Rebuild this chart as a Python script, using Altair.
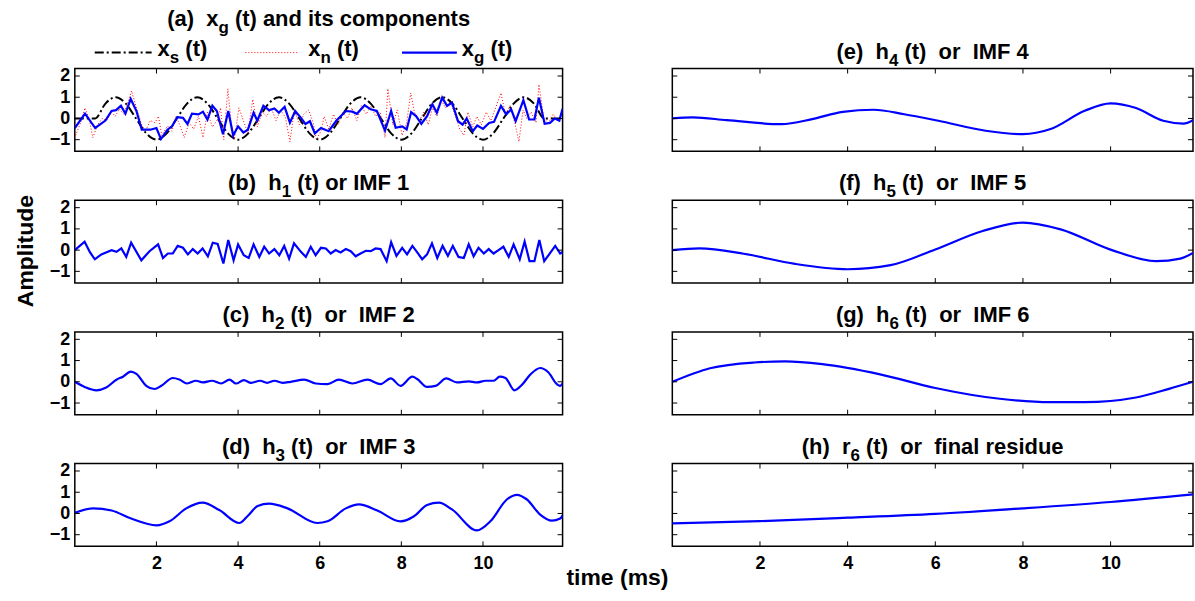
import altair as alt
import pandas as pd

# ---------------- data ----------------
xs_t = [0, 0.5, 0.75, 1.0, 1.25, 1.5, 1.75, 2.0, 2.25, 2.5, 2.75, 3.0, 3.25, 3.5, 3.75,
        4.0, 4.25, 4.5, 4.75, 5.0, 5.25, 5.5, 5.75, 6.0, 6.25, 6.5, 6.75, 7.0, 7.25, 7.5,
        7.75, 8.0, 8.25, 8.5, 8.75, 9.0, 9.25, 9.5, 9.75, 10.0, 10.25, 10.5, 10.75, 11.0,
        11.25, 11.5, 11.95]
xs_v = [0, 0, 0.7, 1, 0.7, 0, -0.7, -1, -0.7, 0, 0.7, 1, 0.7, 0, -0.7,
        -1, -0.7, 0, 0.7, 1, 0.7, 0, -0.7, -1, -0.7, 0, 0.7, 1, 0.7, 0,
        -0.7, -1, -0.7, 0, 0.7, 1, 0.7, 0, -0.7, -1, -0.7, 0, 0.7, 1,
        0.7, 0, 0]

xn_t = [0.02, 0.14, 0.25, 0.35, 0.44, 0.56, 0.67, 0.78, 0.9, 0.99, 1.09, 1.2, 1.29, 1.39,
        1.51, 1.64, 1.73, 1.85, 1.96, 2.05, 2.13, 2.27, 2.38, 2.48, 2.57, 2.68, 2.8, 2.91,
        3.03, 3.14, 3.25, 3.37, 3.48, 3.57, 3.65, 3.75, 3.83, 3.91, 4.02, 4.13, 4.24, 4.36,
        4.47, 4.59, 4.7, 4.81, 4.93, 5.04, 5.16, 5.27, 5.38, 5.5, 5.61, 5.73, 5.84, 5.92,
        6.03, 6.11, 6.22, 6.34, 6.45, 6.56, 6.68, 6.79, 6.91, 7.02, 7.14, 7.25, 7.37, 7.48,
        7.6, 7.67, 7.79, 7.9, 8.02, 8.13, 8.23, 8.32, 8.44, 8.55, 8.66, 8.76, 8.87, 8.97,
        9.08, 9.2, 9.31, 9.43, 9.53, 9.63, 9.75, 9.85, 9.96, 10.08, 10.19, 10.31, 10.44,
        10.55, 10.66, 10.78, 10.88, 10.98, 11.07, 11.18, 11.3, 11.37, 11.49, 11.6, 11.72,
        11.83, 11.95]
xn_v = [-0.8, -0.2, 0.5, 0.0, -0.9, -0.3, 0.0, -0.1, 0.3, 0.1, 0.45, 0.2, 0.7, 1.3,
        0.5, -0.3, -0.6, -0.1, -0.2, 0.1, -0.8, -0.35, -0.6, 0.1, -0.3, -0.9, -0.2, -0.5,
        0.1, -0.9, 0.3, -0.4, -0.1, 0.5, -1.0, 1.4, -0.2, -1.0, 0.5, -0.1, -0.7, 0.9,
        -0.4, 0.3, 0.1, 0.5, -0.1, 0.4, 0.05, -1.1, 0.4, -0.3, 0.2, 0.4, -0.2, -1.0,
        -0.6, 0.1, -0.5, 0.2, -0.3, 0.3, 0.0, 0.5, -0.1, 0.6, 0.2, 0.6, 0.1, 0.3,
        -0.9, 1.4, -0.3, 0.4, -0.8, -0.2, 1.2, 0.3, -0.1, 0.3, -0.3, 0.5, 0.1, 0.9,
        0.5, 0.8, 0.2, -0.5, -0.8, 0.3, -0.4, 0.1, -0.3, 0.3, -0.1, 0.5, 1.2,
        0.2, 0.6, -0.2, -1.1, 0.4, 0.0, 0.3, -0.2, 1.6, 0.0, -0.2, 0.2,
        -0.1, 0.3]

xg_t = [0.0, 0.25, 0.5, 0.75, 0.9, 1.01, 1.13, 1.24, 1.37, 1.51, 1.64, 1.85, 2.0, 2.11,
        2.27, 2.38, 2.51, 2.65, 2.76, 2.87, 3.03, 3.14, 3.25, 3.37, 3.48, 3.63, 3.76, 3.88,
        4.0, 4.13, 4.24, 4.38, 4.47, 4.62, 4.76, 4.89, 5.0, 5.14, 5.27, 5.4, 5.54, 5.65,
        5.76, 5.88, 6.03, 6.22, 6.41, 6.64, 6.8, 6.91, 7.1, 7.25, 7.4, 7.6, 7.75, 7.86,
        8.02, 8.13, 8.24, 8.36, 8.49, 8.63, 8.76, 8.87, 9.0, 9.12, 9.24, 9.39, 9.5, 9.6,
        9.75, 9.86, 10.0, 10.15, 10.27, 10.44, 10.57, 10.69, 10.8, 10.99, 11.13, 11.26,
        11.37, 11.51, 11.64, 11.76, 11.87, 11.95]
xg_v = [-0.45, 0.23, -0.45, -0.1, 0.35, 0.39, 0.6, 0.23, 0.92, 0.35, -0.53, -0.53, -0.45,
        -0.97, -0.53, -0.37, 0.06, 0.03, -0.26, 0.23, 0.19, 0.32, -0.05, 0.6, 0.35, -0.74,
        0.35, -0.8, -0.37, -0.66, -0.53, 0.27, -0.1, 0.6, 0.39, 0.47, 0.27, 0.55, -0.2,
        0.35, 0.03, -0.26, -0.13, -0.7, -0.45, -0.6, -0.1, 0.35, 0.32, 0.22, 0.62, 0.43,
        0.35, -0.57, 0.35, -0.44, -0.37, -0.52, 0.3, 0.11, -0.25, 0.11, 0.67, 0.27, 0.98,
        0.59, 0.75, -0.13, -0.29, 0.0, -0.6, -0.33, -0.49, -0.21, -0.16, 0.59, 0.19, 0.43,
        -0.13, 0.86, -0.05, -0.05, 0.98, -0.25, -0.21, 0.0, -0.1, 0.46]

h1_t = [0, 0.24, 0.37, 0.49, 0.65, 0.9, 1.02, 1.14, 1.26, 1.38, 1.63, 1.83, 2.04, 2.16,
        2.28, 2.4, 2.52, 2.65, 2.77, 2.89, 3.01, 3.13, 3.26, 3.38, 3.5, 3.64, 3.76, 3.89,
        4.0, 4.14, 4.26, 4.38, 4.52, 4.64, 4.76, 4.89, 5.01, 5.13, 5.25, 5.37, 5.54, 5.66,
        5.78, 5.9, 6.03, 6.15, 6.27, 6.39, 6.51, 6.64, 6.76, 6.88, 7.0, 7.13, 7.25, 7.37,
        7.49, 7.64, 7.75, 7.88, 8.02, 8.14, 8.27, 8.39, 8.51, 8.63, 8.75, 8.88, 9.01, 9.14,
        9.26, 9.4, 9.53, 9.65, 9.77, 9.89, 10.02, 10.14, 10.26, 10.38, 10.5, 10.63, 10.75,
        10.9, 11.02, 11.14, 11.26, 11.38, 11.5, 11.77, 11.89, 11.95]
h1_v = [0, 0.4, -0.1, -0.43, -0.2, 0, -0.08, 0.08, -0.32, 0.35, -0.48, -0.05, 0.27, -0.37,
        -0.16, -0.16, 0.2, 0.11, -0.2, 0.05, -0.16, 0.08, -0.29, 0.35, 0.29, -0.63, 0.48,
        -0.48, 0.27, -0.24, -0.37, 0.27, -0.32, 0.16, -0.16, 0.05, -0.24, 0.2, -0.4, 0.32,
        -0.08, -0.32, 0.16, -0.24, 0.11, 0.08, -0.16, 0, -0.11, 0.05, -0.05, -0.29, -0.16,
        -0.03, -0.05, 0.08, 0.05, -0.52, 0.37, -0.27, 0.11, -0.2, 0.2, -0.11, -0.43, -0.2,
        0.32, -0.37, 0.2, -0.27, 0.2, -0.32, -0.37, 0.27, -0.29, 0.11, -0.16, 0.05, -0.16,
        0, 0.16, -0.32, 0.27, -0.43, 0.4, -0.52, -0.52, 0.48, -0.52, 0.2, -0.16, -0.08]

h2_t = [0, 0.24, 0.53, 0.77, 1.02, 1.18, 1.37, 1.51, 1.75, 1.95, 2.12, 2.4, 2.56, 2.75,
        2.97, 3.13, 3.36, 3.58, 3.79, 3.95, 4.14, 4.32, 4.54, 4.71, 4.89, 5.09, 5.29, 5.62,
        5.9, 6.19, 6.47, 6.8, 7.17, 7.49, 7.74, 7.98, 8.27, 8.39, 8.63, 8.84, 9.1, 9.36,
        9.65, 9.85, 10.06, 10.26, 10.41, 10.55, 10.77, 10.95, 11.16, 11.4, 11.6, 11.81,
        11.89, 11.95]
h2_v = [0, -0.24, -0.4, -0.27, 0.1, 0.24, 0.48, 0.37, -0.19, -0.34, -0.19, 0.18, 0.11,
        -0.08, 0.05, -0.03, 0.05, -0.08, 0.1, -0.08, 0.08, -0.05, 0.05, -0.05, 0.05, -0.05,
        0, 0.1, -0.08, -0.11, 0.1, -0.08, 0.1, -0.11, 0.16, -0.19, 0.24, 0.13, -0.24,
        -0.19, 0.16, -0.03, 0.02, -0.03, 0.05, 0.05, 0.24, 0.18, -0.4, -0.15, 0.34, 0.65,
        0.45, -0.11, -0.19, -0.08]

h3_t = [0, 0.45, 0.9, 1.38, 2.0, 2.32, 2.73, 3.13, 3.54, 4.03, 4.23, 4.48, 4.76, 5.21,
        5.94, 6.19, 6.64, 6.96, 7.41, 7.98, 8.31, 8.63, 8.92, 9.24, 9.85, 10.18, 10.59,
        10.83, 11.07, 11.4, 11.69, 11.89, 11.95]
h3_v = [0.03, 0.24, 0.14, -0.24, -0.56, -0.37, 0.24, 0.51, 0.16, -0.45, -0.13, 0.35, 0.46,
        0.24, -0.45, -0.37, 0.24, 0.43, 0.14, -0.37, -0.13, 0.4, 0.51, 0.19, -0.8, -0.37,
        0.67, 0.88, 0.67, -0.05, -0.34, -0.24, -0.08]

h4_t = [0, 0.47, 1.24, 2.49, 3.19, 3.89, 4.59, 5.29, 6.07, 7.15, 8.0, 8.63, 9.41, 10.0,
        10.58, 11.2, 11.66, 11.88]
h4_v = [0, 0.05, -0.08, -0.27, -0.03, 0.31, 0.41, 0.2, -0.11, -0.58, -0.74, -0.5, 0.36,
        0.71, 0.49, -0.11, -0.24, -0.08]

h5_t = [0, 0.62, 1.63, 2.8, 4.0, 4.98, 6.0, 7.08, 8.0, 8.86, 10.03, 11.04, 11.59, 11.88]
h5_v = [0, 0.08, -0.17, -0.65, -0.9, -0.71, 0.03, 0.9, 1.3, 0.98, 0, -0.52, -0.4, -0.13]

h6_t = [0, 0.86, 1.87, 2.57, 3.42, 4.74, 6.0, 7.47, 8.63, 9.41, 10.58, 11.35, 11.88]
h6_v = [0, 0.64, 0.91, 0.96, 0.83, 0.35, -0.29, -0.8, -0.96, -0.96, -0.74, -0.32, 0]

r6_t = [0, 2.0, 4.0, 6.0, 8.0, 10.0, 11.88]
r6_v = [-0.47, -0.36, -0.2, -0.02, 0.24, 0.54, 0.9]

x_tick_values = [2, 4, 6, 8, 10]
y_tick_values = [-1, 0, 1, 2]
y_domain = [-1.55, 2.35]

titles = {
    "a": ("(a)  x", "g", " (t) and its components"),
    "b": ("(b)  h", "1", " (t) or IMF 1"),
    "c": ("(c)  h", "2", " (t)  or  IMF 2"),
    "d": ("(d)  h", "3", " (t)  or  IMF 3"),
    "e": ("(e)  h", "4", " (t)  or  IMF 4"),
    "f": ("(f)  h", "5", " (t)  or  IMF 5"),
    "g": ("(g)  h", "6", " (t)  or  IMF 6"),
    "h": ("(h)  r", "6", " (t)  or  final residue"),
}
legend_items = [("x", "s", " (t)"), ("x", "n", " (t)"), ("x", "g", " (t)")]

# ---------------- layout / style ----------------
FONT = "Liberation Sans"
BLUE = "#0000ff"
LW, RW, H = 489, 522, 83
XMAX_L, XMAX_R = 11.95, 11.88
TSIZE, SSIZE, SUBDY = 22, 17, 9
ONE = pd.DataFrame({"k": [0]})

CW = {" ": 278, "\u00a0": 278, "(": 333, ")": 333, "A": 722, "F": 611, "I": 278, "M": 833,
      "a": 556, "b": 611, "c": 556, "d": 611, "e": 556, "f": 333, "g": 611, "h": 611,
      "i": 278, "l": 278, "m": 889, "n": 611, "o": 611, "p": 611, "r": 389, "s": 556,
      "t": 333, "u": 611, "x": 556}


def tw(s, size):
    return sum(CW.get(c, 556) for c in s) / 1000.0 * size


def nb(s):
    return s.replace(" ", "\u00a0")


def txt(s, x, y, size, align="left", angle=0):
    return alt.Chart(ONE).mark_text(
        text=nb(s), align=align, baseline="middle", font=FONT, fontWeight="bold",
        fontSize=size, color="black", angle=angle
    ).encode(x=alt.value(x), y=alt.value(y))


def rich(pre, sub, post, x0, cy):
    wp, ws = tw(pre, TSIZE), tw(sub, SSIZE)
    lead = len(post) - len(post.lstrip(" "))
    xpost = x0 + wp + ws + lead * tw(" ", TSIZE)
    return [txt(pre, x0, cy, TSIZE), txt(sub, x0 + wp, cy + SUBDY, SSIZE),
            txt(post.lstrip(" "), xpost, cy, TSIZE)]


def rich_centered(pieces, cx, cy):
    pre, sub, post = pieces
    total = tw(pre, TSIZE) + tw(sub, SSIZE) + tw(post, TSIZE)
    return rich(pre, sub, post, cx - total / 2.0, cy)


def panel(series, key, right, bottom, extra=()):
    w = RW if right else LW
    xmax = XMAX_R if right else XMAX_L
    xsc = alt.Scale(domain=[0, xmax], nice=False, zero=False)
    ysc = alt.Scale(domain=y_domain, nice=False, zero=False)
    xax = alt.Axis(values=x_tick_values, format="d", ticks=False, domain=False, grid=False,
                   labelFont=FONT, labelFontWeight="bold", labelFontSize=18,
                   labelColor="black", labelPadding=8, title=None) if bottom else None
    yax = None if right else alt.Axis(values=y_tick_values, format="d", ticks=False,
                                      domain=False, grid=False, labelFont=FONT,
                                      labelFontWeight="bold", labelFontSize=18,
                                      labelColor="black", labelPadding=5, title=None)
    layers = []
    for t, v, color, width, dash, interp in series:
        df = pd.DataFrame({"t": t, "v": v})
        mk = dict(color=color, strokeWidth=width, interpolate=interp, clip=True)
        if dash:
            mk["strokeDash"] = dash
        layers.append(alt.Chart(df).mark_line(**mk).encode(
            x=alt.X("t:Q", scale=xsc, axis=xax), y=alt.Y("v:Q", scale=ysc, axis=yax)))
    xt = pd.DataFrame({"t": x_tick_values})
    yt = pd.DataFrame({"v": y_tick_values})
    for y1, y2 in [(0, 5), (H - 5, H)]:
        layers.append(alt.Chart(xt).mark_rule(color="black", strokeWidth=1).encode(
            x=alt.X("t:Q", scale=xsc, axis=xax), y=alt.value(y1), y2=alt.value(y2)))
    for x1, x2 in [(0, 5), (w - 5, w)]:
        layers.append(alt.Chart(yt).mark_rule(color="black", strokeWidth=1).encode(
            y=alt.Y("v:Q", scale=ysc, axis=yax), x=alt.value(x1), x2=alt.value(x2)))
    cy = -50 if key == "a" else -17
    layers += rich_centered(titles[key], w / 2.0, cy)
    layers += list(extra)
    return alt.layer(*layers).properties(width=w, height=H)


# extras for panel (a): legend, shared axis titles, origin anchor
extra_a = []
leg_y, leg_ty = -16, -20
samples = [(20, 77, "black", 2, [9, 3, 2, 3], 83),
           (171, 225, "#ff0000", 1, [1, 2], 234),
           (328, 383, BLUE, 2.2, None, 388)]
for (x1, x2, col, sw, dash, tx), (pre, sub, post) in zip(samples, legend_items):
    mk = dict(color=col, strokeWidth=sw)
    if dash:
        mk["strokeDash"] = dash
    extra_a.append(alt.Chart(ONE).mark_rule(**mk).encode(
        x=alt.value(x1), x2=alt.value(x2), y=alt.value(leg_y)))
    extra_a += rich(pre, sub, post, tx, leg_ty)
extra_a.append(txt("Amplitude", -49, 183, 23, align="center", angle=270))
extra_a.append(txt("time (ms)", 544, 511, 23, align="center"))
extra_a.append(alt.Chart(ONE).mark_rule(strokeWidth=0, strokeOpacity=0).encode(
    x=alt.value(-74), x2=alt.value(-74), y=alt.value(-67), y2=alt.value(-67)))

pa = panel([(xs_t, xs_v, "black", 2, [9, 3, 2, 3], "monotone"),
            (xn_t, xn_v, "#ff0000", 1, [1, 2], "linear"),
            (xg_t, xg_v, BLUE, 2.2, None, "linear")], "a", False, False, extra_a)
pb = panel([(h1_t, h1_v, BLUE, 2.2, None, "linear")], "b", False, False)
pc = panel([(h2_t, h2_v, BLUE, 2.2, None, "monotone")], "c", False, False)
pd_ = panel([(h3_t, h3_v, BLUE, 2.2, None, "monotone")], "d", False, True)
pe = panel([(h4_t, h4_v, BLUE, 2.2, None, "monotone")], "e", True, False)
pf = panel([(h5_t, h5_v, BLUE, 2.2, None, "monotone")], "f", True, False)
pg = panel([(h6_t, h6_v, BLUE, 2.2, None, "monotone")], "g", True, False)
ph = panel([(r6_t, r6_v, BLUE, 2.2, None, "monotone")], "h", True, True)

chart = alt.concat(pa, pe, pb, pf, pc, pg, pd_, ph, columns=2,
                   spacing={"row": 49, "column": 110}, bounds="flush", align="each").properties(
    padding=0, background="white"
).configure_view(stroke="black", strokeWidth=1.5)

chart.save("out.html", embed_options={"renderer": "svg", "actions": False})
